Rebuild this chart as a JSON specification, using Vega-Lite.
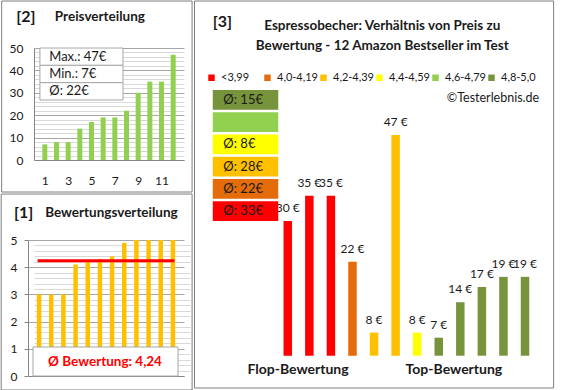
{
 "$schema": "https://vega.github.io/schema/vega-lite/v6.json",
 "padding": 0,
 "background": "white",
 "spacing": 0,
 "config": {
  "view": {"stroke": null},
  "font": "Lato",
  "locale": {"number": {"decimal": ",", "thousands": ".", "grouping": [3], "currency": ["", " €"]}},
  "axis": {"labelFont": "Lato", "labelColor": "#1a1a1a", "labelFontSize": 12, "domainColor": "#868686", "tickColor": "#868686", "labelFlush": false, "labelOverlap": false, "minExtent": 0},
  "axisY": {"minExtent": 0},
  "axisX": {"minExtent": 0}
 },
 "datasets": {
  "products": [
   {"i": 1, "price": 30, "rating": 3.0, "cat": "<3,99"},
   {"i": 2, "price": 35, "rating": 3.0, "cat": "<3,99"},
   {"i": 3, "price": 35, "rating": 3.0, "cat": "<3,99"},
   {"i": 4, "price": 22, "rating": 4.1, "cat": "4,0-4,19"},
   {"i": 5, "price": 8, "rating": 4.2, "cat": "4,2-4,39"},
   {"i": 6, "price": 47, "rating": 4.3, "cat": "4,2-4,39"},
   {"i": 7, "price": 8, "rating": 4.4, "cat": "4,4-4,59"},
   {"i": 8, "price": 7, "rating": 4.9, "cat": "4,8-5,0"},
   {"i": 9, "price": 14, "rating": 5.0, "cat": "4,8-5,0"},
   {"i": 10, "price": 17, "rating": 5.0, "cat": "4,8-5,0"},
   {"i": 11, "price": 19, "rating": 5.0, "cat": "4,8-5,0"},
   {"i": 12, "price": 19, "rating": 5.0, "cat": "4,8-5,0"}
  ],
  "stats": [{"t": "Max.: 47€"}, {"t": "Min.: 7€"}, {"t": "Ø: 22€"}],
  "avgs": [
   {"cat": "4,8-5,0", "t": "Ø: 15€"},
   {"cat": "4,6-4,79", "t": ""},
   {"cat": "4,4-4,59", "t": "Ø: 8€"},
   {"cat": "4,2-4,39", "t": "Ø: 28€"},
   {"cat": "4,0-4,19", "t": "Ø: 22€"},
   {"cat": "<3,99", "t": "Ø: 33€"}
  ]
 },
 "hconcat": [
  {
   "spacing": 0,
   "vconcat": [
    {
     "width": 150,
     "height": 112,
     "resolve": {"scale": {"y": "independent"}, "axis": {"x": "independent"}},
     "layer": [
      {
       "resolve": {"axis": {"x": "independent", "y": "independent"}},
       "layer": [
        {
         "data": {"name": "products"},
         "transform": [{"window": [{"op": "row_number", "as": "rank"}], "sort": [{"field": "price", "order": "ascending"}]}],
         "mark": {"type": "bar", "size": 5, "color": "#92D050"},
         "encoding": {
          "x": {"field": "rank", "type": "quantitative", "scale": {"domain": [0.5, 12.5], "nice": false, "zero": false},
                "axis": {"title": null, "values": [1, 3, 5, 7, 9, 11], "grid": false, "ticks": false, "labelPadding": 15, "labelOverlap": false, "domainColor": "#868686", "minExtent": 0}},
          "y": {"field": "price", "type": "quantitative", "scale": {"domain": [0, 50], "nice": false},
                "axis": {"title": null, "orient": "left", "values": [0, 10, 20, 30, 40, 50], "grid": true, "gridColor": "#A6A6A6",
                         "ticks": false, "labelPadding": 11, "labelOverlap": false, "minExtent": 0}}
         }
        },
        {
         "data": {"values": [{}]},
         "mark": {"type": "rect", "filled": false, "color": "#7F7F7F", "strokeWidth": 1},
         "encoding": {
          "x": {"datum": -2.7, "axis": null},
          "x2": {"datum": 13.62},
          "y": {"datum": 70.98, "axis": {"title": null, "orient": "right", "values": [2,4,6,8,12,14,16,18,22,24,26,28,32,34,36,38,42,44,46,48],
                                         "grid": true, "gridColor": "#D9D9D9", "labels": false, "ticks": false, "domain": false, "minExtent": 0, "maxExtent": 0}},
          "y2": {"datum": -14.29}
         }
        },
        {
         "data": {"values": [{"t": "[2]"}]},
         "mark": {"type": "text", "fontSize": 16, "fontWeight": "bold", "color": "#1a1a1a"},
         "encoding": {"x": {"datum": -0.62, "axis": null}, "y": {"datum": 63.84, "axis": null}, "text": {"field": "t"}}
        },
        {
         "data": {"values": [{"t": "Preisverteilung"}]},
         "mark": {"type": "text", "align": "left", "fontSize": 13.5, "fontWeight": "bold", "color": "#1a1a1a"},
         "encoding": {"x": {"datum": 1.86, "axis": null}, "y": {"datum": 63.84, "axis": null}, "text": {"field": "t"}}
        }
       ]
      },
      {
       "data": {"name": "stats"},
       "layer": [
        {
         "mark": {"type": "rect", "fill": "white", "stroke": "#A6A6A6", "strokeWidth": 1},
         "encoding": {
          "x": {"datum": 0.58, "axis": null},
          "x2": {"datum": 7.7},
          "y": {"field": "t", "type": "nominal", "sort": null, "scale": {"range": [0, 52], "paddingInner": 0, "paddingOuter": 0}, "axis": null}
         }
        },
        {
         "mark": {"type": "text", "align": "left", "fontSize": 13, "color": "#1a1a1a"},
         "encoding": {
          "x": {"datum": 1.38, "axis": null},
          "y": {"field": "t", "type": "nominal", "sort": null, "axis": null},
          "text": {"field": "t"}
         }
        }
       ]
      }
     ]
    },
    {
     "width": 150,
     "height": 136,
     "resolve": {"axis": {"y": "independent"}},
     "layer": [
      {
       "data": {"name": "products"},
       "mark": {"type": "bar", "size": 4.5, "color": "#FFC000"},
       "encoding": {
        "x": {"field": "i", "type": "quantitative", "scale": {"domain": [0.5, 12.5], "range": [-6, 150], "nice": false, "zero": false},
              "axis": {"title": null, "labels": false, "ticks": false, "grid": false, "minExtent": 0}},
        "y": {"field": "rating", "type": "quantitative", "scale": {"domain": [0, 5], "nice": false},
              "axis": {"title": null, "orient": "left", "offset": 6, "values": [0, 1, 2, 3, 4, 5], "grid": true, "gridColor": "#A6A6A6",
                       "ticks": true, "tickSize": 4, "labelPadding": 7, "labelOverlap": false, "minExtent": 0}}
       }
      },
      {
       "data": {"values": [{}]},
       "mark": {"type": "rect", "filled": false, "color": "#7F7F7F", "strokeWidth": 1},
       "encoding": {
        "x": {"datum": -2.115},
        "x2": {"datum": 13.577},
        "y": {"datum": 6.69, "axis": {"title": null, "orient": "right", "values": [0.2,0.4,0.6,0.8,1.2,1.4,1.6,1.8,2.2,2.4,2.6,2.8,3.2,3.4,3.6,3.8,4.2,4.4,4.6,4.8],
                                       "grid": true, "gridColor": "#D9D9D9", "labels": false, "ticks": false, "domain": false, "minExtent": 0, "maxExtent": 0}},
        "y2": {"datum": -0.515}
       }
      },
      {
       "data": {"name": "products"},
       "mark": {"type": "rule", "color": "#FF0000", "strokeWidth": 3, "strokeCap": "square"},
       "encoding": {
        "x": {"aggregate": "min", "field": "i", "type": "quantitative"},
        "x2": {"aggregate": "max", "field": "i"},
        "y": {"aggregate": "mean", "field": "rating", "type": "quantitative", "axis": null}
       }
      },
      {
       "data": {"values": [{}]},
       "mark": {"type": "rect", "fill": "white", "stroke": "#A6A6A6", "strokeWidth": 1},
       "encoding": {
        "x": {"datum": 0.5},
        "x2": {"datum": 12.42},
        "y": {"datum": 1.066, "axis": null},
        "y2": {"datum": 0}
       }
      },
      {
       "data": {"values": [{"t": "Ø Bewertung: 4,24"}]},
       "mark": {"type": "text", "fontSize": 13.5, "fontWeight": "bold", "color": "#FF0000"},
       "encoding": {"x": {"datum": 6.42}, "y": {"datum": 0.515, "axis": null}, "text": {"field": "t"}}
      },
      {
       "data": {"values": [{"t": "[1]"}]},
       "mark": {"type": "text", "fontSize": 16, "fontWeight": "bold", "color": "#1a1a1a"},
       "encoding": {"x": {"datum": -0.27}, "y": {"datum": 5.99, "axis": null}, "text": {"field": "t"}}
      },
      {
       "data": {"values": [{"t": "Bewertungsverteilung"}]},
       "mark": {"type": "text", "align": "left", "fontSize": 13.5, "fontWeight": "bold", "color": "#1a1a1a"},
       "encoding": {"x": {"datum": 1.5}, "y": {"datum": 5.99, "axis": null}, "text": {"field": "t"}}
      }
     ]
    }
   ]
  },
  {
   "width": 268.8,
   "height": 307.7,
   "resolve": {"scale": {"y": "independent"}},
   "layer": [
    {
     "layer": [
      {
       "data": {"name": "products"},
       "mark": {"type": "bar", "size": 8.5},
       "encoding": {
        "x": {"field": "i", "type": "quantitative", "scale": {"domain": [0.5, 12.5], "nice": false, "zero": false},
              "axis": {"title": null, "values": [1.45, 8.68], "labelExpr": "datum.value < 5 ? 'Flop-Bewertung' : 'Top-Bewertung'",
                       "grid": false, "ticks": false, "domain": false, "labelFontSize": 14, "labelFontWeight": "bold", "labelPadding": 7, "minExtent": 0}},
        "y": {"field": "price", "type": "quantitative", "scale": {"domain": [3.45, 64.14], "nice": false, "zero": false}, "axis": null},
        "y2": {"datum": 3.45},
        "color": {"field": "cat", "type": "nominal",
                  "scale": {"domain": ["<3,99", "4,0-4,19", "4,2-4,39", "4,4-4,59", "4,6-4,79", "4,8-5,0"],
                            "range": ["#FF0000", "#E46C0A", "#FFC000", "#FFFF00", "#92D050", "#77933C"]},
                  "legend": {"orient": "none", "legendX": 172, "legendY": 24, "direction": "horizontal", "title": null,
                             "gridAlign": "all", "columns": 6,
                             "symbolType": "square", "symbolSize": 42, "symbolStrokeWidth": 0, "labelFontSize": 11,
                             "labelFont": "Lato", "labelColor": "#1a1a1a", "columnPadding": 0, "labelOffset": 4, "padding": 0}}
       }
      },
      {
       "data": {"values": [{}]},
       "mark": {"type": "rect", "filled": false, "color": "#7F7F7F", "strokeWidth": 1},
       "encoding": {
        "x": {"datum": -3.326},
        "x2": {"datum": 13.326},
        "y": {"datum": 73.41},
        "y2": {"datum": -2.92}
       }
      },
      {
       "data": {"name": "products"},
       "mark": {"type": "text", "fontSize": 12, "baseline": "alphabetic", "dy": -9, "color": "#1a1a1a"},
       "encoding": {
        "x": {"field": "i", "type": "quantitative"},
        "y": {"field": "price", "type": "quantitative"},
        "text": {"field": "price", "type": "quantitative", "format": "$.0f"}
       }
      },
      {
       "data": {"values": [{"t": "[3]"}]},
       "mark": {"type": "text", "fontSize": 16, "fontWeight": "bold", "color": "#1a1a1a"},
       "encoding": {"x": {"datum": -2.03}, "y": {"datum": 69.3}, "text": {"field": "t"}}
      },
      {
       "data": {"values": [{"t": "Espressobecher: Verhältnis von Preis zu\nBewertung - 12 Amazon Bestseller im Test"}]},
       "mark": {"type": "text", "fontSize": 13.5, "fontWeight": "bold", "color": "#1a1a1a", "lineBreak": "\n", "lineHeight": 20},
       "encoding": {"x": {"datum": 5.38}, "y": {"datum": 68.48}, "text": {"field": "t"}}
      },
      {
       "data": {"values": [{"t": "©Testerlebnis.de"}]},
       "mark": {"type": "text", "align": "right", "fontSize": 12.5, "color": "#1a1a1a"},
       "encoding": {"x": {"datum": 12.656}, "y": {"datum": 54.28}, "text": {"field": "t"}}
      }
     ]
    },
    {
     "data": {"name": "avgs"},
     "layer": [
      {
       "mark": {"type": "rect"},
       "encoding": {
        "x": {"datum": -2.478},
        "x2": {"datum": 0.558},
        "y": {"field": "cat", "type": "nominal",
              "scale": {"domain": ["4,8-5,0", "4,6-4,79", "4,4-4,59", "4,2-4,39", "4,0-4,19", "<3,99"], "range": [42, 173], "paddingInner": 0.11, "paddingOuter": 0},
              "axis": null},
        "color": {"field": "cat", "type": "nominal"}
       }
      },
      {
       "mark": {"type": "text", "align": "left", "fontSize": 13, "color": "#1a1a1a"},
       "encoding": {
        "x": {"datum": -1.987},
        "y": {"field": "cat", "type": "nominal", "axis": null},
        "text": {"field": "t"}
       }
      }
     ]
    }
   ]
  }
 ]
}
